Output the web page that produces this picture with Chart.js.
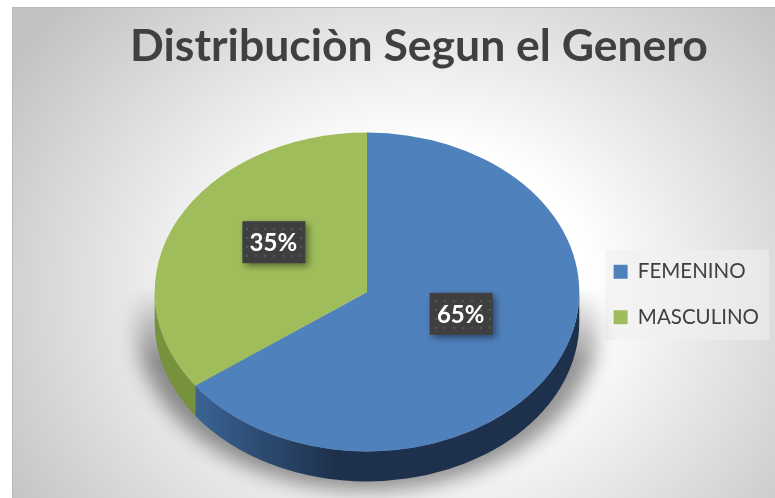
<!DOCTYPE html>
<html lang="es">
<head>
    <meta charset="UTF-8">
    <title>Distribución Segun el Genero</title>
    <script src="https://cdn.jsdelivr.net/npm/chart.js"></script>
    <style>
        body { margin: 0; background: #fff; }
        canvas { display: block; }
    </style>
</head>
<body>
    <canvas id="pieChart" width="775" height="498"></canvas>
    <script>
        const chartTitle = 'Distribuciòn Segun el Genero';
        const categories = ['FEMENINO', 'MASCULINO'];
        const percentages = [65, 35];
        const sliceColors = ['#4f81bd', '#9fbe5b'];

        // la libreria solo dibuja circulos, asi que se aplasta en vertical para el efecto 3D
        const squash = 0.751;
        const depth = 30;
        const pieX = 367;
        const pieY = 292;

        function drawPanel(ctx) {
            ctx.save();
            ctx.beginPath();
            ctx.rect(12, 7, 763, 491);
            ctx.clip();
            ctx.translate(420, 290);
            ctx.scale(1, 0.85);
            const bg = ctx.createRadialGradient(0, 0, 170, 0, 0, 490);
            bg.addColorStop(0, '#ffffff');
            bg.addColorStop(1, '#c2c2c2');
            ctx.fillStyle = bg;
            ctx.fillRect(-420, -600, 800, 1200);
            ctx.restore();
            ctx.fillStyle = '#bababa';
            ctx.fillRect(12, 7, 763, 1);
            ctx.fillRect(12, 7, 1, 491);
            // fondo del bloque de leyenda
            ctx.fillStyle = 'rgba(240,240,240,0.6)';
            ctx.fillRect(605, 250, 164, 90);
        }

        function drawGroundShadow(ctx, r) {
            const layer = document.createElement('canvas');
            layer.width = 775;
            layer.height = 498;
            const s = layer.getContext('2d');
            // solo la sombra: la elipse queda fuera del lienzo
            s.shadowColor = 'rgba(0,0,0,0.42)';
            s.shadowBlur = 20;
            s.shadowOffsetX = 2000;
            s.fillStyle = '#000';
            s.beginPath();
            s.ellipse(pieX - 2000, pieY + depth + 3, r + 18, r * squash + 6, 0, 0, Math.PI * 2);
            s.fill();
            // se desvanece hacia arriba
            const fade = s.createLinearGradient(0, pieY - 5, 0, pieY + 70);
            fade.addColorStop(0, 'rgba(0,0,0,0)');
            fade.addColorStop(1, 'rgba(0,0,0,1)');
            s.globalCompositeOperation = 'destination-in';
            s.shadowColor = 'transparent';
            s.shadowOffsetX = 0;
            s.fillStyle = fade;
            s.fillRect(0, 0, 775, 498);
            ctx.drawImage(layer, 0, 0);
        }

        function drawSide(ctx, arc, color) {
            const a = Math.max(arc.startAngle, 0);
            const b = Math.min(arc.endAngle, Math.PI);
            if (b <= a) return;
            const r = arc.outerRadius;
            ctx.beginPath();
            ctx.ellipse(pieX, pieY + depth, r, r * squash, 0, a, b);
            ctx.ellipse(pieX, pieY, r, r * squash, 0, b, a, true);
            ctx.closePath();
            ctx.fillStyle = color;
            ctx.fill();
        }

        function dotPattern(ctx) {
            const tile = document.createElement('canvas');
            tile.width = 9;
            tile.height = 9;
            const t = tile.getContext('2d');
            t.fillStyle = '#3f3f3f';
            t.fillRect(0, 0, 9, 9);
            t.fillStyle = '#565656';
            t.fillRect(3, 3, 2, 2);
            return ctx.createPattern(tile, 'repeat');
        }

        const pie3d = {
            id: 'pie3d',
            beforeDraw(chart) {
                drawPanel(chart.ctx);
            },
            afterLayout(chart) {
                // titulo y leyenda del original no siguen el centrado normal
                chart.titleBlock.left += 69;
                chart.legend.top += 87;
            },
            beforeDatasetsDraw(chart) {
                const ctx = chart.ctx;
                const arcs = chart.getDatasetMeta(0).data;

                drawGroundShadow(ctx, arcs[0].outerRadius);

                const side = ctx.createLinearGradient(190, 0, 335, 0);
                side.addColorStop(0, '#3b6596');
                side.addColorStop(1, '#1e314c');
                drawSide(ctx, arcs[0], side);
                drawSide(ctx, arcs[1], '#76923c');

                ctx.save();
                ctx.translate(pieX, pieY);
                ctx.scale(1, squash);
                ctx.translate(-arcs[0].x, -arcs[0].y);
            },
            afterDatasetsDraw(chart) {
                const ctx = chart.ctx;
                ctx.restore();

                const arcs = chart.getDatasetMeta(0).data;
                const fill = dotPattern(ctx);
                arcs.forEach((arc, i) => {
                    const mid = (arc.startAngle + arc.endAngle) / 2;
                    const lx = pieX + Math.cos(mid) * arc.outerRadius * 0.495;
                    const ly = pieY + Math.sin(mid) * arc.outerRadius * 0.495 * squash - 14;
                    ctx.save();
                    ctx.shadowColor = 'rgba(0,0,0,0.45)';
                    ctx.shadowBlur = 7;
                    ctx.shadowOffsetX = 3;
                    ctx.shadowOffsetY = 3;
                    ctx.fillStyle = fill;
                    ctx.fillRect(lx - 31, ly - 21, 63, 42);
                    ctx.restore();
                    ctx.fillStyle = '#ffffff';
                    ctx.font = 'bold 24px Lato';
                    ctx.textAlign = 'center';
                    ctx.textBaseline = 'middle';
                    ctx.fillText(percentages[i] + '%', lx, ly + 1);
                });
            }
        };

        new Chart(document.getElementById('pieChart'), {
            type: 'pie',
            data: {
                labels: categories,
                datasets: [{
                    data: percentages,
                    backgroundColor: sliceColors,
                    borderWidth: 0,
                    clip: false
                }]
            },
            options: {
                responsive: false,
                animation: false,
                layout: { padding: { top: 4, right: 6, left: 0, bottom: 0 } },
                plugins: {
                    title: {
                        display: true,
                        text: chartTitle,
                        color: '#404040',
                        font: { family: 'Lato', size: 44.5, weight: 'bold' },
                        padding: { top: 16, bottom: 0 }
                    },
                    legend: {
                        position: 'right',
                        labels: {
                            color: '#404040',
                            font: { family: 'Lato', size: 20.5 },
                            boxWidth: 14,
                            boxHeight: 14,
                            padding: 25
                        }
                    },
                    tooltip: { enabled: false }
                }
            },
            plugins: [pie3d]
        });
    </script>
</body>
</html>
